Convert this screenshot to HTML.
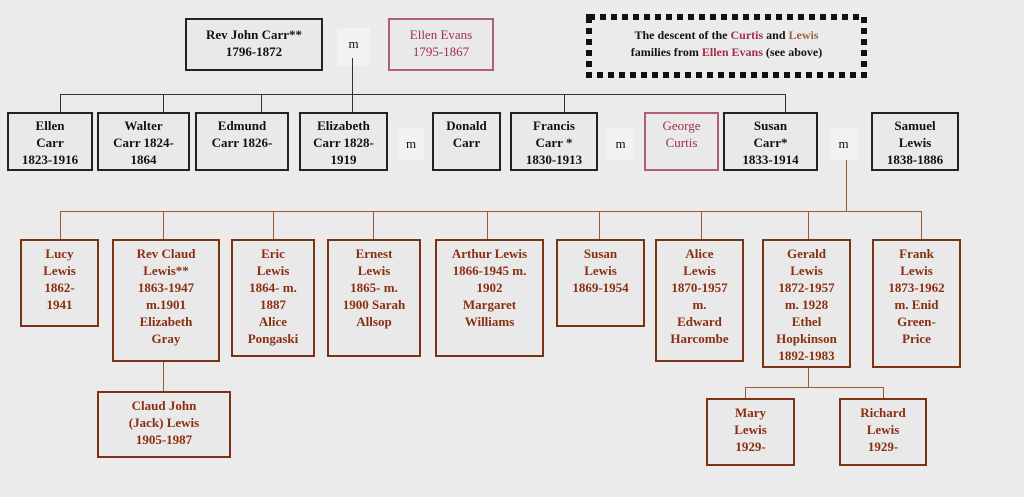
<!DOCTYPE html>
<html><head><style>
body{margin:0;width:1024px;height:497px;background:#ebebeb;position:relative;overflow:hidden;font-family:"Liberation Serif",serif;font-weight:bold;font-size:13px;}
.b{position:absolute;box-sizing:border-box;border:2px solid #222;background:#e9e9e9;text-align:center;line-height:17px;padding-top:3px;color:#111;}
.r{border-color:#b06070;color:#a03048;border-width:2px;font-weight:normal}
.c{border-color:#7a3414;color:#8a2e10;border-width:2px;line-height:17px;padding-top:4px}
.m{position:absolute;background:#f2f2f2;text-align:center;font-weight:normal;color:#111}
.h,.v{position:absolute;background:#333}
.h{height:1px}.v{width:1px}
.o{background:#9a5a30}
</style></head><body>
<div class="b" style="left:185px;top:18px;width:138px;height:53px;padding-top:6px">Rev John Carr**<br>1796-1872</div>
<div class="m" style="left:337px;top:28px;width:33px;height:38px;line-height:32px">m</div>
<div class="b r" style="left:388px;top:18px;width:106px;height:53px;padding-top:6px">Ellen Evans<br>1795-1867</div>
<svg style="position:absolute;left:586px;top:14px" width="281" height="64"><rect x="3" y="3" width="275" height="58" fill="#ebebeb" stroke="#111" stroke-width="6" stroke-dasharray="6 5"/></svg>
<div style="position:absolute;left:586px;top:14px;width:281px;height:64px;padding-top:13px;box-sizing:border-box;text-align:center;font-size:12px;line-height:17px;color:#111">The descent of the <span style="color:#a03048">Curtis</span> and <span style="color:#a0603a">Lewis</span><br>families from <span style="color:#a03048">Ellen Evans</span> (see above)</div>

<div class="v" style="left:352px;top:58px;height:54px"></div>
<div class="h" style="left:60px;top:94px;width:725px"></div>
<div class="v" style="left:60px;top:94px;height:18px"></div>
<div class="v" style="left:163px;top:94px;height:18px"></div>
<div class="v" style="left:261px;top:94px;height:18px"></div>
<div class="v" style="left:564px;top:94px;height:18px"></div>
<div class="v" style="left:785px;top:94px;height:18px"></div>

<div class="b" style="left:7px;top:112px;width:86px;height:59px">Ellen<br>Carr<br>1823-1916</div>
<div class="b" style="left:97px;top:112px;width:93px;height:59px">Walter<br>Carr 1824-<br>1864</div>
<div class="b" style="left:195px;top:112px;width:94px;height:59px">Edmund<br>Carr 1826-</div>
<div class="b" style="left:299px;top:112px;width:89px;height:59px">Elizabeth<br>Carr 1828-<br>1919</div>
<div class="m" style="left:398px;top:128px;width:26px;height:32px;line-height:32px">m</div>
<div class="b" style="left:432px;top:112px;width:69px;height:59px">Donald<br>Carr</div>
<div class="b" style="left:510px;top:112px;width:88px;height:59px">Francis<br>Carr *<br>1830-1913</div>
<div class="m" style="left:607px;top:128px;width:27px;height:32px;line-height:32px">m</div>
<div class="b r" style="left:644px;top:112px;width:75px;height:59px">George<br>Curtis</div>
<div class="b" style="left:723px;top:112px;width:95px;height:59px">Susan<br>Carr*<br>1833-1914</div>
<div class="m" style="left:830px;top:128px;width:27px;height:32px;line-height:32px">m</div>
<div class="b" style="left:871px;top:112px;width:88px;height:59px">Samuel<br>Lewis<br>1838-1886</div>

<div class="v o" style="left:846px;top:160px;height:51px"></div>
<div class="h o" style="left:60px;top:211px;width:861px"></div>
<div class="v o" style="left:60px;top:211px;height:28px"></div>
<div class="v o" style="left:163px;top:211px;height:28px"></div>
<div class="v o" style="left:273px;top:211px;height:28px"></div>
<div class="v o" style="left:373px;top:211px;height:28px"></div>
<div class="v o" style="left:487px;top:211px;height:28px"></div>
<div class="v o" style="left:599px;top:211px;height:28px"></div>
<div class="v o" style="left:701px;top:211px;height:28px"></div>
<div class="v o" style="left:808px;top:211px;height:28px"></div>
<div class="v o" style="left:921px;top:211px;height:28px"></div>

<div class="b c" style="left:20px;top:239px;width:79px;height:88px">Lucy<br>Lewis<br>1862-<br>1941</div>
<div class="b c" style="left:112px;top:239px;width:108px;height:123px">Rev Claud<br>Lewis**<br>1863-1947<br>m.1901<br>Elizabeth<br>Gray</div>
<div class="b c" style="left:231px;top:239px;width:84px;height:118px">Eric<br>Lewis<br>1864- m.<br>1887<br>Alice<br>Pongaski</div>
<div class="b c" style="left:327px;top:239px;width:94px;height:118px">Ernest<br>Lewis<br>1865- m.<br>1900 Sarah<br>Allsop</div>
<div class="b c" style="left:435px;top:239px;width:109px;height:118px">Arthur Lewis<br>1866-1945 m.<br>1902<br>Margaret<br>Williams</div>
<div class="b c" style="left:556px;top:239px;width:89px;height:88px">Susan<br>Lewis<br>1869-1954</div>
<div class="b c" style="left:655px;top:239px;width:89px;height:123px">Alice<br>Lewis<br>1870-1957<br>m.<br>Edward<br>Harcombe</div>
<div class="b c" style="left:762px;top:239px;width:89px;height:129px">Gerald<br>Lewis<br>1872-1957<br>m. 1928<br>Ethel<br>Hopkinson<br>1892-1983</div>
<div class="b c" style="left:872px;top:239px;width:89px;height:129px">Frank<br>Lewis<br>1873-1962<br>m. Enid<br>Green-<br>Price</div>

<div class="v o" style="left:163px;top:362px;height:29px"></div>
<div class="b c" style="left:97px;top:391px;width:134px;height:67px">Claud John<br>(Jack) Lewis<br>1905-1987</div>

<div class="v o" style="left:808px;top:368px;height:19px"></div>
<div class="h o" style="left:745px;top:387px;width:138px"></div>
<div class="v o" style="left:745px;top:387px;height:11px"></div>
<div class="v o" style="left:883px;top:387px;height:11px"></div>
<div class="b c" style="left:706px;top:398px;width:89px;height:68px">Mary<br>Lewis<br>1929-</div>
<div class="b c" style="left:839px;top:398px;width:88px;height:68px">Richard<br>Lewis<br>1929-</div>
</body></html>
